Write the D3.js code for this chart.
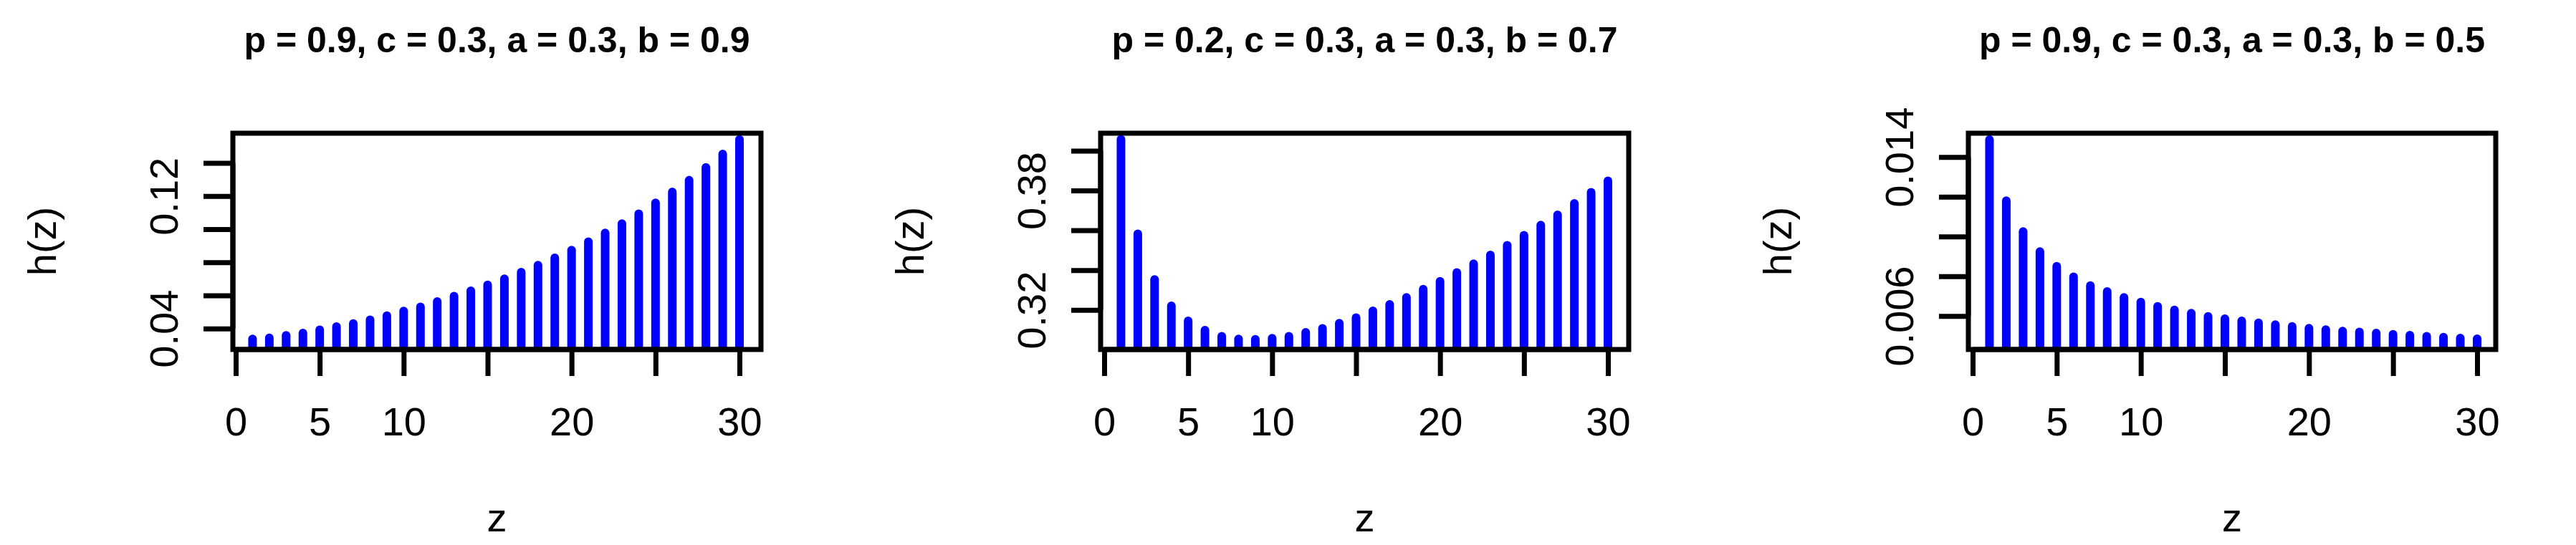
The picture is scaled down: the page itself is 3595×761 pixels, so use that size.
<!DOCTYPE html>
<html><head><meta charset="utf-8">
<script src="https://cdn.jsdelivr.net/npm/d3@7"></script>
<style>body{margin:0;background:#fff}</style></head>
<body><svg id="c" width="3595" height="761"></svg>
<script>
const z = d3.range(1, 31);
const titles = ["p = 0.9, c = 0.3, a = 0.3, b = 0.9","p = 0.2, c = 0.3, a = 0.3, b = 0.7","p = 0.9, c = 0.3, a = 0.3, b = 0.5"];
const h1 = [.0337,.0343,.0358,.0373,.0392,.0411,.0430,.0453,.0478,.0506,.0531,.0563,.0595,.0628,.0664,.0700,.0740,.0783,.0827,.0874,.0924,.0977,.1034,.1093,.1159,.1225,.1296,.1373,.1455,.1542];
const h2 = [.4057,.3582,.3353,.3221,.3145,.3098,.3068,.3054,.3052,.3058,.3068,.3087,.3107,.3133,.3161,.3195,.3228,.3263,.3304,.3344,.3388,.3432,.3476,.3525,.3575,.3626,.3678,.3735,.3791,.3849];
const h3 = [.01488,.01180,.01025,.00924,.00850,.00797,.00753,.00723,.00693,.00670,.00648,.00630,.00614,.00598,.00586,.00575,.00565,.00556,.00547,.00538,.00531,.00524,.00519,.00514,.00508,.00503,.00498,.00493,.00489,.00485];
const xTicks = [0,5,10,15,20,25,30];
const xLabels = [0,5,10,20,30];
const yTicks1 = [0.04,0.06,0.08,0.10,0.12,0.14], yLab1 = [0.04,0.12];
const yTicks2 = [0.32,0.34,0.36,0.38,0.40], yLab2 = [0.32,0.38];
const yTicks3 = [0.006,0.008,0.010,0.012,0.014], yLab3 = [0.006,0.014];

const panels = [
 {left:325,right:1062,x0:329,x30:1032,data:h1,yd:[0.0273,0.158],yt:yTicks1,yl:yLab1,fmt:d3.format(".2f")},
 {left:1536,right:2273,x0:1541,x30:2244,data:h2,yd:[0.3001,0.4088],yt:yTicks2,yl:yLab2,fmt:d3.format(".2f")},
 {left:2747,right:3483,x0:2753,x30:3457,data:h3,yd:[0.00431,0.0152],yt:yTicks3,yl:yLab3,fmt:d3.format(".3f")}
];
const pTop=186,pBottom=488;
const svg = d3.select("#c");
const F = "'Liberation Sans', Arial, sans-serif";
panels.forEach((p,i)=>{
  const unit=(p.x30-p.x0)/30;
  const x=d3.scaleLinear().domain([(p.left-p.x0)/unit,(p.right-p.x0)/unit]).range([p.left,p.right]);
  const y=d3.scaleLinear().domain(p.yd).range([pBottom,pTop]);
  const g=svg.append("g");
  const cid="clip"+i;
  g.append("clipPath").attr("id",cid).append("rect").attr("x",p.left).attr("y",pTop).attr("width",p.right-p.left).attr("height",pBottom-pTop);
  g.append("g").attr("clip-path",`url(#${cid})`).selectAll("line").data(z).join("line")
    .attr("x1",d=>x(d)).attr("x2",d=>x(d)).attr("y1",y(p.yd[0])+10).attr("y2",(d,j)=>y(p.data[j]))
    .attr("stroke","#0000ff").attr("stroke-width",12).attr("stroke-linecap","round");
  g.append("rect").attr("x",p.left).attr("y",pTop).attr("width",p.right-p.left).attr("height",pBottom-pTop)
    .attr("fill","none").attr("stroke","#000").attr("stroke-width",7);
  const xa=g.append("g").attr("transform",`translate(0,${pBottom})`)
    .call(d3.axisBottom(x).tickValues(xTicks).tickSize(37).tickFormat(d=>xLabels.includes(d)?d:""));
  xa.select(".domain").attr("d",`M${x(0)},0H${x(30)}`).attr("stroke-width",7);
  xa.selectAll(".tick line").attr("stroke-width",7);
  xa.selectAll("text").attr("font-family",F).attr("font-size",56).attr("fill","#000").attr("y",0).attr("dy",null).attr("transform","translate(0,120)");
  const ya=g.append("g").attr("transform",`translate(${p.left},0)`)
    .call(d3.axisLeft(y).tickValues(p.yt).tickSize(41).tickFormat(d=>p.yl.some(v=>Math.abs(v-d)<1e-9)?p.fmt(d):""));
  ya.select(".domain").attr("d",`M0,${y(p.yt[0])}V${y(p.yt[p.yt.length-1])}`).attr("stroke-width",7);
  ya.selectAll(".tick line").attr("stroke-width",7);
  ya.selectAll("text").attr("font-family",F).attr("font-size",56).attr("fill","#000")
    .attr("x",0).attr("dy",null).attr("text-anchor","middle").attr("transform","translate(-97,0) rotate(-90)").attr("y",20);
  const cx=(p.left+p.right)/2;
  svg.append("text").attr("x",cx).attr("y",73).attr("text-anchor","middle").attr("font-family",F)
    .attr("font-weight","bold").attr("font-size",50).text(titles[i]);
  svg.append("text").attr("x",cx).attr("y",742).attr("text-anchor","middle").attr("font-family",F).attr("font-size",56).text("z");
  svg.append("text").attr("transform",`translate(${p.left-247},${(pTop+pBottom)/2}) rotate(-90)`).attr("text-anchor","middle")
    .attr("font-family",F).attr("font-size",56).text("h(z)");
});
</script></body></html>
